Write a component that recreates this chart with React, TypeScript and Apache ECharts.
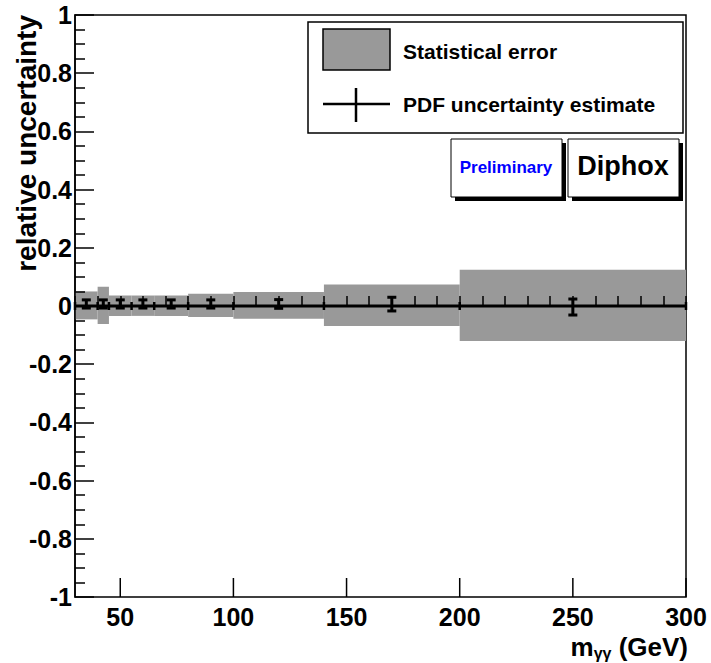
import React, { useEffect, useRef } from 'react';
import * as echarts from 'echarts';

// Bin edges of the m_gammagamma histogram (GeV)
const binEdges = [30, 40, 45, 55, 65, 80, 100, 140, 200, 300];
// Statistical error band (relative), upper and lower half-widths per bin
const statErrUp = [0.05, 0.066, 0.036, 0.036, 0.036, 0.042, 0.048, 0.074, 0.125];
const statErrDown = [0.046, 0.062, 0.034, 0.034, 0.034, 0.038, 0.044, 0.069, 0.12];
// PDF uncertainty estimate points (bin centres)
const pdfCenters = [35, 42.5, 50, 60, 72.5, 90, 120, 170, 250];
const pdfValues = [0, 0, 0, 0, 0, 0, 0, 0, 0];
const pdfErrUp = [0.021, 0.021, 0.021, 0.021, 0.021, 0.021, 0.022, 0.03, 0.024];
const pdfErrDown = [0.007, 0.007, 0.007, 0.007, 0.007, 0.007, 0.008, 0.017, 0.031];
// Major tick positions on x
const xMajorTicks = [50, 100, 150, 200, 250, 300];

const FONT = '"Liberation Sans", Arial, Helvetica, sans-serif';

export default function App() {
  const ref = useRef<HTMLDivElement>(null);
  useEffect(() => {
    document.body.style.margin = '0';
    const chart = echarts.init(ref.current!, null, { renderer: 'svg' });

    const bandData = binEdges.slice(0, -1).map((lo, i) => [lo, binEdges[i + 1], statErrUp[i], statErrDown[i]]);
    const edgeData = binEdges.map((e) => [e, 0]);
    const pdfData = pdfCenters.map((c, i) => [c, pdfValues[i], pdfErrUp[i], pdfErrDown[i]]);
    const majorData = xMajorTicks.map((v) => [v, -1]);

    const option: any = {
      animation: false,
      textStyle: { fontFamily: FONT },
      grid: {
        left: 75, right: 25, top: 15, bottom: 66,
        show: true, borderColor: '#000', borderWidth: 1.5, backgroundColor: 'transparent',
      },
      xAxis: {
        type: 'value', min: 30, max: 300, interval: 10, z: 10,
        axisLine: { lineStyle: { color: '#000', width: 1.5 } },
        axisTick: { inside: true, length: 10, lineStyle: { color: '#000', width: 1.5 } },
        splitLine: { show: false },
        axisLabel: {
          margin: 7, color: '#000', fontSize: 25, fontWeight: 'bold', fontFamily: FONT,
          formatter: (v: number) => (v % 50 === 0 ? String(v) : ''),
          showMinLabel: true, showMaxLabel: true,
        },
      },
      yAxis: {
        type: 'value', min: -1, max: 1, interval: 0.2, z: 10,
        axisLine: { lineStyle: { color: '#000', width: 1.5 } },
        axisTick: { inside: true, length: 19, lineStyle: { color: '#000', width: 1.5 } },
        minorTick: { show: true, splitNumber: 4, length: 10, lineStyle: { color: '#000', width: 1.5 } },
        splitLine: { show: false },
        axisLabel: {
          margin: 3, color: '#000', fontSize: 25, fontWeight: 'bold', fontFamily: FONT,
          formatter: (v: number) => String(Math.round(v * 10) / 10),
        },
      },
      series: [
        {
          type: 'custom', name: 'Statistical error', z: 1,
          data: bandData,
          encode: { x: [0, 1], y: [2] },
          renderItem: (_p: any, api: any) => {
            const p1 = api.coord([api.value(0), api.value(2)]);
            const p2 = api.coord([api.value(1), -api.value(3)]);
            return {
              type: 'rect',
              shape: { x: p1[0], y: p1[1], width: p2[0] - p1[0], height: p2[1] - p1[1] },
              style: { fill: '#999999' },
            };
          },
        },
        {
          type: 'line', z: 3, symbol: 'none',
          data: [[binEdges[0], 0], [binEdges[binEdges.length - 1], 0]],
          lineStyle: { color: '#000', width: 3 },
        },
        {
          type: 'custom', z: 4, data: edgeData,
          renderItem: (_p: any, api: any) => {
            const p = api.coord([api.value(0), api.value(1)]);
            return {
              type: 'line',
              shape: { x1: p[0], y1: p[1] - 4, x2: p[0], y2: p[1] + 4 },
              style: { stroke: '#000', lineWidth: 2.5 },
            };
          },
        },
        {
          type: 'custom', name: 'PDF uncertainty estimate', z: 5, data: pdfData,
          renderItem: (_p: any, api: any) => {
            const x = api.value(0);
            const y = api.value(1);
            const top = api.coord([x, y + api.value(2)]);
            const bot = api.coord([x, y - api.value(3)]);
            const w = 4.5;
            const st = { stroke: '#000', lineWidth: 3 };
            return {
              type: 'group',
              children: [
                { type: 'line', shape: { x1: top[0], y1: top[1], x2: bot[0], y2: bot[1] }, style: st },
                { type: 'line', shape: { x1: top[0] - w, y1: top[1], x2: top[0] + w, y2: top[1] }, style: st },
                { type: 'line', shape: { x1: bot[0] - w, y1: bot[1], x2: bot[0] + w, y2: bot[1] }, style: st },
              ],
            };
          },
        },
        {
          type: 'custom', z: 6, data: majorData,
          renderItem: (_p: any, api: any) => {
            const p = api.coord([api.value(0), api.value(1)]);
            return {
              type: 'line',
              shape: { x1: p[0], y1: p[1], x2: p[0], y2: p[1] - 19 },
              style: { stroke: '#000', lineWidth: 1.5 },
            };
          },
        },
      ],
      graphic: [
        // Axis titles
        {
          type: 'text', x: 26, y: 15, rotation: Math.PI / 2,
          style: {
            text: 'relative uncertainty', fill: '#000', font: `bold 28px ${FONT}`,
            align: 'right', verticalAlign: 'middle',
          },
        },
        {
          type: 'text', x: 688, y: 647,
          style: {
            text: '{m|m}{s|γγ}{g| (GeV)}', align: 'right', verticalAlign: 'middle',
            rich: {
              m: { fontSize: 26, fontWeight: 'bold', fontFamily: FONT, fill: '#000', color: '#000' },
              s: { fontSize: 16, fontWeight: 'bold', fontFamily: FONT, fill: '#000', color: '#000', padding: [12, 0, 0, 0] },
              g: { fontSize: 26, fontWeight: 'bold', fontFamily: FONT, fill: '#000', color: '#000' },
            },
          },
        },
        // Legend
        {
          type: 'rect', shape: { x: 308, y: 22, width: 375, height: 111 },
          style: { fill: '#fff', stroke: '#000', lineWidth: 1.5 },
        },
        {
          type: 'rect', shape: { x: 323, y: 29, width: 67, height: 41 },
          style: { fill: '#999999', stroke: '#000', lineWidth: 1.5 },
        },
        {
          type: 'text', x: 403, y: 51,
          style: { text: 'Statistical error', fill: '#000', font: `bold 21px ${FONT}`, verticalAlign: 'middle' },
        },
        {
          type: 'line', shape: { x1: 323, y1: 104, x2: 390, y2: 104 },
          style: { stroke: '#000', lineWidth: 2.5 },
        },
        {
          type: 'line', shape: { x1: 356, y1: 88, x2: 356, y2: 122 },
          style: { stroke: '#000', lineWidth: 2.5 },
        },
        {
          type: 'text', x: 403, y: 104,
          style: { text: 'PDF uncertainty estimate', fill: '#000', font: `bold 21px ${FONT}`, verticalAlign: 'middle' },
        },
        // Preliminary box
        { type: 'rect', shape: { x: 455, y: 143, width: 111, height: 58 }, style: { fill: '#000' } },
        {
          type: 'rect', shape: { x: 451, y: 139, width: 111, height: 58 },
          style: { fill: '#fff', stroke: '#000', lineWidth: 1 },
        },
        {
          type: 'text', x: 506, y: 167,
          style: { text: 'Preliminary', fill: '#0000ff', font: `bold 17px ${FONT}`, align: 'center', verticalAlign: 'middle' },
        },
        // Diphox box
        { type: 'rect', shape: { x: 572, y: 143, width: 111, height: 58 }, style: { fill: '#000' } },
        {
          type: 'rect', shape: { x: 568, y: 139, width: 111, height: 58 },
          style: { fill: '#fff', stroke: '#000', lineWidth: 1 },
        },
        {
          type: 'text', x: 623, y: 166,
          style: { text: 'Diphox', fill: '#000', font: `bold 27px ${FONT}`, align: 'center', verticalAlign: 'middle' },
        },
      ],
    };

    chart.setOption(option);
    return () => chart.dispose();
  }, []);
  return <div ref={ref} style={{ width: 711, height: 663 }} />;
}
